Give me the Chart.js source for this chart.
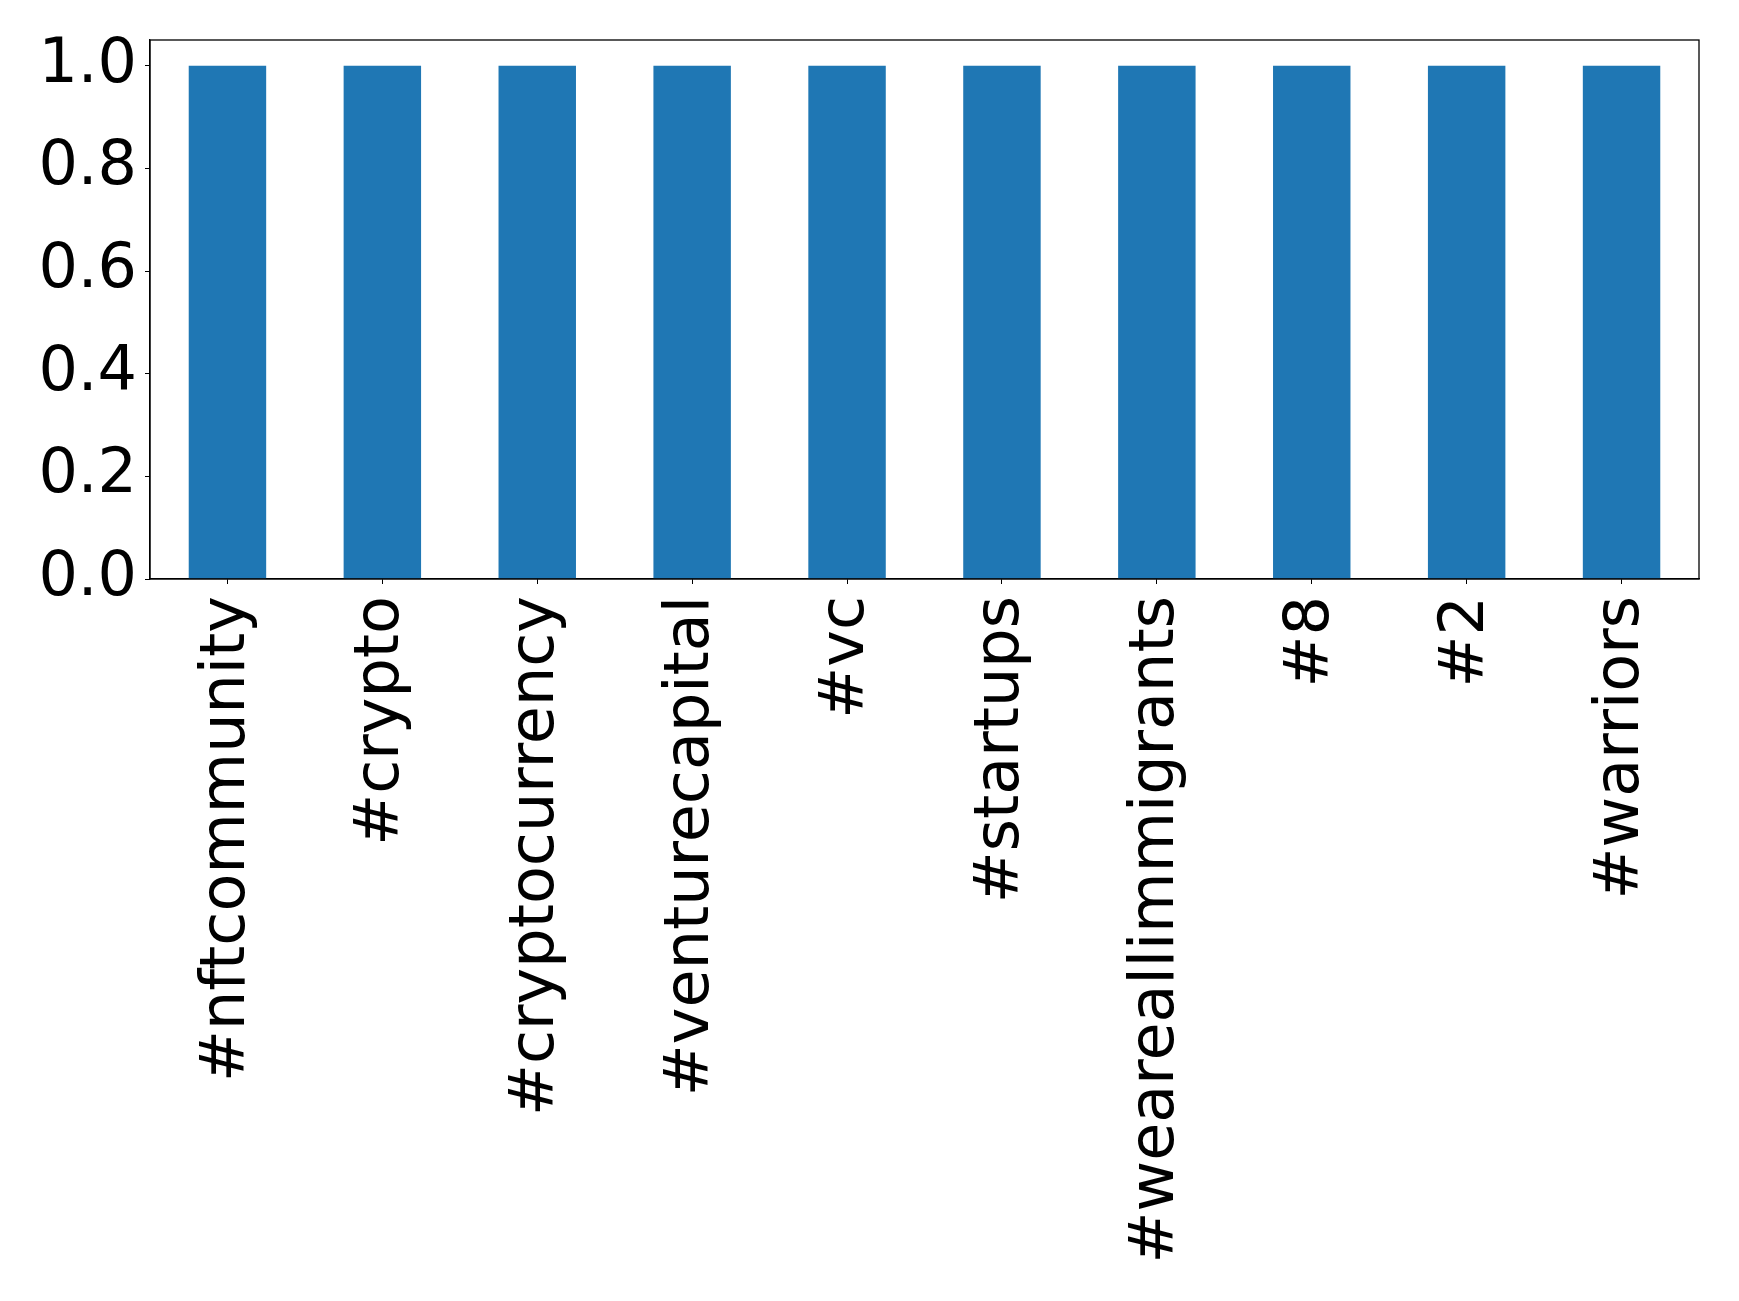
<!DOCTYPE html>
<html>
<head>
<meta charset="utf-8">
<script src="https://cdn.jsdelivr.net/npm/chart.js@4/dist/chart.umd.min.js"></script>
<style>
  html, body { margin: 0; padding: 0; background: #fff; }
  #wrap { width: 1739px; height: 1301px; }
</style>
</head>
<body>
<div id="wrap"><canvas id="chart" width="1739" height="1301"></canvas></div>
<script>
const hashtags = ['#nftcommunity', '#crypto', '#cryptocurrency', '#venturecapital', '#vc',
                  '#startups', '#weareallimmigrants', '#8', '#2', '#warriors'];
const counts = [1, 1, 1, 1, 1, 1, 1, 1, 1, 1];
const yTicks = [0, 0.2, 0.4, 0.6, 0.8, 1.0];

// box round the plot area (matplotlib spines)
const frame = {
  id: 'frame',
  afterDraw(chart) {
    const a = chart.chartArea, c = chart.ctx;
    c.save();
    c.strokeStyle = '#000';
    c.lineWidth = 1.3;
    c.strokeRect(a.left, a.top, a.right - a.left, a.bottom - a.top);
    c.restore();
  }
};

const ch = new Chart(document.getElementById('chart').getContext('2d'), {
  type: 'bar',
  data: {
    labels: hashtags,
    datasets: [{ data: counts, backgroundColor: '#1f77b4', borderWidth: 0,
                 barPercentage: 0.5, categoryPercentage: 1.0 }]
  },
  options: {
    responsive: false, animation: false,
    layout: { padding: { top: 40, right: 40, left: 0, bottom: 0 } },
    plugins: { legend: { display: false }, tooltip: { enabled: false } },
    scales: {
      x: {
        offset: true,
        grid: { display: true, drawOnChartArea: false, drawTicks: true, tickLength: 5, tickColor: '#000', offset: false },
        border: { display: true, color: '#000', width: 1.3 },
        ticks: { color: '#000', font: { family: 'DejaVu Sans', size: 62 }, minRotation: 90, maxRotation: 90,
                 padding: 12, autoSkip: false },
        afterFit: (s) => { s.height = 722; s.paddingLeft = 0; s.paddingRight = 0; }
      },
      y: {
        min: 0, max: 1.05,
        grid: { display: true, drawOnChartArea: false, drawTicks: true, tickLength: 5, tickColor: '#000' },
        border: { display: true, color: '#000', width: 1.3 },
        ticks: { color: '#000', font: { family: 'DejaVu Sans', size: 62 }, padding: 8,
                 callback: (v) => Number(v).toFixed(1) },
        afterBuildTicks: (s) => { s.ticks = yTicks.map(v => ({ value: v })); },
        afterFit: (s) => { s.width = 150; s.paddingTop = 0; s.paddingBottom = 0; }
      }
    }
  },
  plugins: [frame]
});
</script>
</body>
</html>
